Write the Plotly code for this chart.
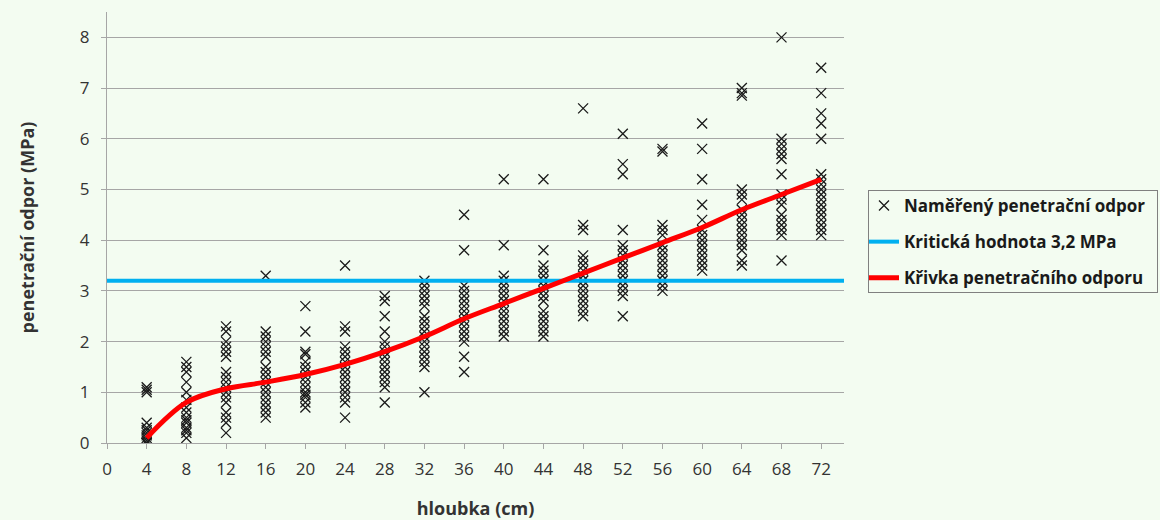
import plotly.graph_objects as go

# --- data -------------------------------------------------------------
depths = [4, 8, 12, 16, 20, 24, 28, 32, 36, 40, 44, 48, 52, 56, 60, 64, 68, 72]

d04 = [1.1, 1.05, 1.0, 0.4, 0.3, 0.25, 0.2, 0.15, 0.1, 0.05, 0.0, 0.0, 0.0]
d08 = [1.6, 1.5, 1.4, 1.2, 1.0, 0.85, 0.7, 0.6, 0.5, 0.45, 0.4, 0.3, 0.25, 0.2, 0.1]
d12 = [2.3, 2.2, 2.0, 1.9, 1.8, 1.7, 1.4, 1.3, 1.2, 1.1, 1.0, 0.9, 0.8, 0.6, 0.5, 0.4, 0.2]
d16 = [3.3, 2.2, 2.1, 2.0, 1.9, 1.8, 1.7, 1.5, 1.4, 1.3, 1.2, 1.1, 1.0, 0.9, 0.8, 0.7, 0.6, 0.5]
d20 = [2.7, 2.2, 1.8, 1.75, 1.6, 1.5, 1.4, 1.3, 1.2, 1.1, 1.0, 0.95, 0.9, 0.8, 0.7]
d24 = [3.5, 2.3, 2.2, 1.9, 1.8, 1.7, 1.6, 1.5, 1.4, 1.3, 1.2, 1.1, 1.0, 0.9, 0.8, 0.5]
d28 = [2.9, 2.8, 2.5, 2.2, 2.0, 1.9, 1.8, 1.7, 1.6, 1.5, 1.4, 1.3, 1.2, 1.1, 0.8]
d32 = [3.2, 3.1, 3.0, 2.9, 2.8, 2.7, 2.5, 2.4, 2.3, 2.2, 2.1, 2.0, 1.9, 1.8, 1.7, 1.6, 1.5, 1.0]
d36 = [4.5, 3.8, 3.1, 3.0, 2.9, 2.8, 2.7, 2.6, 2.5, 2.4, 2.3, 2.2, 2.1, 2.0, 1.7, 1.4]
d40 = [5.2, 3.9, 3.3, 3.2, 3.1, 3.0, 2.9, 2.8, 2.7, 2.6, 2.5, 2.4, 2.3, 2.2, 2.1]
d44 = [5.2, 3.8, 3.5, 3.4, 3.3, 3.2, 3.1, 3.0, 2.9, 2.8, 2.6, 2.5, 2.4, 2.3, 2.2, 2.1]
d48 = [6.6, 4.3, 4.2, 3.7, 3.6, 3.5, 3.4, 3.3, 3.2, 3.1, 3.0, 2.9, 2.8, 2.7, 2.6, 2.5]
d52 = [6.1, 5.5, 5.3, 4.2, 3.9, 3.8, 3.7, 3.6, 3.5, 3.4, 3.3, 3.2, 3.1, 3.0, 2.9, 2.5]
d56 = [5.8, 5.75, 4.3, 4.2, 4.1, 3.9, 3.8, 3.7, 3.6, 3.5, 3.4, 3.3, 3.2, 3.1, 3.0]
d60 = [6.3, 5.8, 5.2, 4.7, 4.4, 4.2, 4.1, 4.0, 3.9, 3.8, 3.7, 3.6, 3.5, 3.4]
d64 = [7.0, 6.9, 6.85, 5.0, 4.9, 4.8, 4.6, 4.5, 4.4, 4.3, 4.2, 4.1, 4.0, 3.9, 3.8, 3.6, 3.5]
d68 = [8.0, 6.0, 5.9, 5.8, 5.7, 5.6, 5.3, 4.9, 4.8, 4.7, 4.5, 4.4, 4.3, 4.2, 4.1, 3.6]
d72 = [7.4, 6.9, 6.5, 6.3, 6.0, 5.3, 5.2, 5.1, 5.0, 4.9, 4.8, 4.7, 4.6, 4.5, 4.4, 4.3, 4.2, 4.1]

measured = [d04, d08, d12, d16, d20, d24, d28, d32, d36, d40, d44, d48, d52, d56, d60, d64, d68, d72]

curve_y = [0.1, 0.8, 1.07, 1.2, 1.35, 1.55, 1.8, 2.1, 2.45, 2.75, 3.05, 3.35, 3.65, 3.95, 4.25, 4.6, 4.9, 5.2]

critical_value = 3.2
x_axis_max = 74.3
x_ticks = list(range(0, 73, 4))
y_ticks = list(range(0, 9))

# --- figure -----------------------------------------------------------
sx, sy = [], []
for d, vals in zip(depths, measured):
    sx += [d] * len(vals)
    sy += vals

FONT = "Open Sans"
BG = "#F3FCF1"
W, H = 1160, 520
ML, MR, MT, MB = 107, 316, 12, 77
PW, PH = W - ML - MR, H - MT - MB

fig = go.Figure()
fig.add_trace(go.Scatter(
    x=sx, y=sy, mode="markers", name="Naměřený penetrační odpor",
    legendgroup="a",
    marker=dict(symbol="x-thin", size=10, color="#1a1a1a",
                line=dict(width=1.3, color="#1a1a1a")),
))
fig.add_trace(go.Scatter(
    x=[0, x_axis_max], y=[critical_value, critical_value], mode="lines",
    name="Kritická hodnota 3,2 MPa", legendgroup="b",
    line=dict(color="#00B0F0", width=4),
))
fig.add_trace(go.Scatter(
    x=depths, y=curve_y, mode="lines", name="Křivka penetračního odporu",
    legendgroup="c",
    line=dict(color="#FF0000", width=5, shape="spline", smoothing=1.0),
))

# legend frame, drawn as an empty bordered annotation (above the legend layer,
# does not push the margins)
fig.add_annotation(
    xref="paper", yref="paper",
    x=(868 - ML) / PW, y=(H - MB - 190) / PH,
    xanchor="left", yanchor="top",
    text=" ", showarrow=False,
    width=288, height=101, borderpad=0,
    bordercolor="#808080", borderwidth=1, bgcolor="rgba(0,0,0,0)",
)

fig.update_layout(
    width=W, height=H,
    margin=dict(l=ML, r=MR, t=MT, b=MB),
    paper_bgcolor=BG, plot_bgcolor=BG,
    font=dict(family=FONT, size=17, color="#333333"),
    showlegend=True,
    legend=dict(
        xref="container", yref="container",
        x=864 / W, y=1 - 188 / H, xanchor="left", yanchor="top",
        bgcolor="rgba(0,0,0,0)", borderwidth=0,
        font=dict(family=FONT, size=17, color="#1a1a1a", weight="bold"),
        tracegroupgap=11, traceorder="grouped",
    ),
    xaxis=dict(
        range=[0, x_axis_max], tickvals=x_ticks, automargin=False,
        showgrid=False, zeroline=False,
        showline=True, linecolor="#A6A6A6", linewidth=1,
        ticks="outside", ticklen=5, tickcolor="#A6A6A6",
        tickfont=dict(size=17), ticklabelstandoff=6,
        title=dict(text="hloubka (cm)", font=dict(size=18, weight="bold"), standoff=26),
    ),
    yaxis=dict(
        range=[0, 8.5], tickvals=y_ticks, automargin=False,
        showgrid=True, gridcolor="#A6A6A6", gridwidth=1, zeroline=False,
        showline=True, linecolor="#A6A6A6", linewidth=1,
        ticks="outside", ticklen=5, tickcolor="#A6A6A6",
        tickfont=dict(size=17), ticklabelstandoff=8,
        title=dict(text="penetrační odpor (MPa)", font=dict(size=18, weight="bold"), standoff=40),
    ),
)

fig.write_html(
    "out.html",
    config={"displayModeBar": False},
    post_script="document.body.style.margin='0';document.body.style.background='%s';" % BG,
)
